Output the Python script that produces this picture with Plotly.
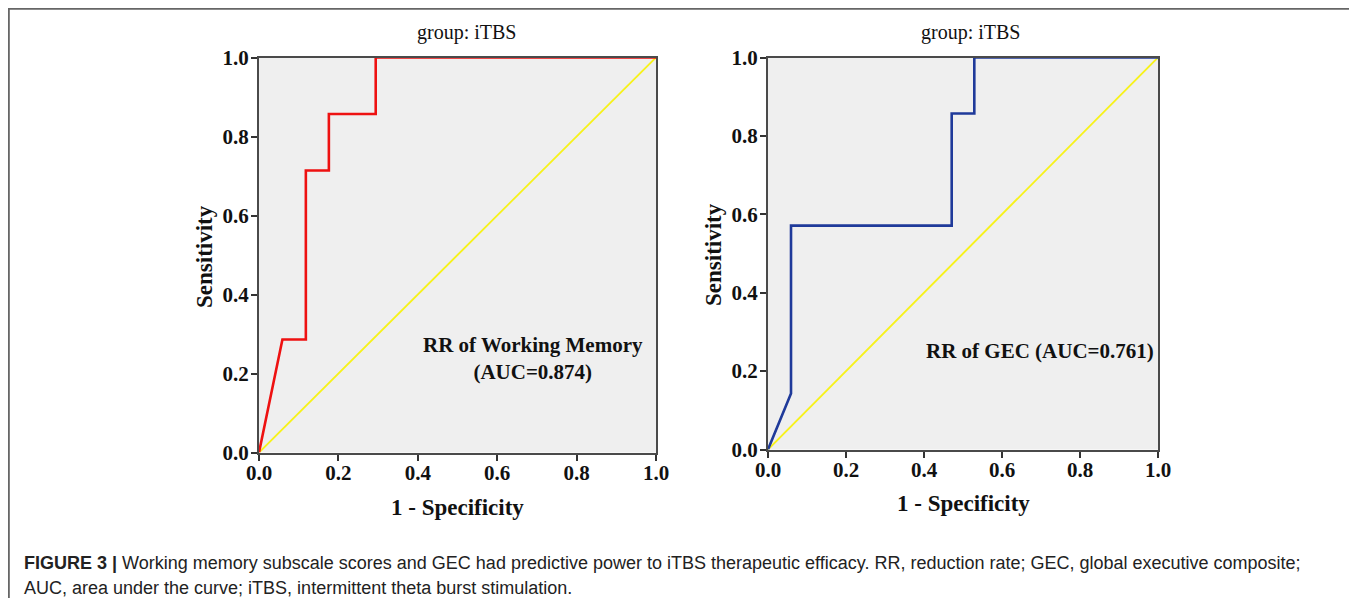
import plotly.graph_objects as go

OFF = 8  # browser default body margin
W, H = 1357 - OFF, 606 - 2 * OFF

# ROC data (1 - specificity, sensitivity)
wm_fpr = [0.0, 0.059, 0.118, 0.118, 0.176, 0.176, 0.294, 0.294, 1.0]
wm_tpr = [0.0, 0.286, 0.286, 0.714, 0.714, 0.857, 0.857, 1.0, 1.0]
gec_fpr = [0.0, 0.059, 0.059, 0.471, 0.471, 0.529, 0.529, 1.0]
gec_tpr = [0.0, 0.143, 0.571, 0.571, 0.857, 0.857, 1.0, 1.0]
ref_line = [0.0, 1.0]
tick_vals = [0.0, 0.2, 0.4, 0.6, 0.8, 1.0]
tick_text = ["0.0", "0.2", "0.4", "0.6", "0.8", "1.0"]
panel_title = "group: iTBS"
label_wm = "RR of Working Memory<br>(AUC=0.874)"
label_gec = "RR of GEC (AUC=0.761)"
x_title = "1 - Specificity"
y_title = "Sensitivity"
caption_1 = "<b>FIGURE 3 |</b> Working memory subscale scores and GEC had predictive power to iTBS therapeutic efficacy. RR, reduction rate; GEC, global executive composite;"
caption_2 = "AUC, area under the curve; iTBS, intermittent theta burst stimulation."

SERIF = "Liberation Serif, Times New Roman, serif"
SANS = "Liberation Sans, Arial, sans-serif"


def px(x):
    return (x - OFF) / W


def py(y):
    return 1 - (y - OFF) / H


fig = go.Figure()

fig.add_trace(go.Scatter(x=ref_line, y=ref_line, mode="lines",
                         line=dict(color="#f7f21a", width=1.9),
                         xaxis="x", yaxis="y", hoverinfo="skip"))
fig.add_trace(go.Scatter(x=wm_fpr, y=wm_tpr, mode="lines",
                         line=dict(color="#ee1111", width=2.6),
                         xaxis="x", yaxis="y"))
fig.add_trace(go.Scatter(x=ref_line, y=ref_line, mode="lines",
                         line=dict(color="#f7f21a", width=1.9),
                         xaxis="x2", yaxis="y2", hoverinfo="skip"))
fig.add_trace(go.Scatter(x=gec_fpr, y=gec_tpr, mode="lines",
                         line=dict(color="#1f3a9a", width=2.6),
                         xaxis="x2", yaxis="y2"))

axis_common = dict(
    range=[0, 1], tickvals=tick_vals, ticktext=tick_text,
    showgrid=False, zeroline=False, showline=True, linecolor="#4a4a4a",
    linewidth=2, mirror=True, ticks="outside", ticklen=6, tickwidth=1.5,
    tickcolor="#333333",
    tickfont=dict(family=SERIF, size=21, color="#111111", weight="bold"),
    fixedrange=True, automargin=False,
)
xax = dict(axis_common, ticklabelstandoff=-6)
yax = dict(axis_common, ticklabelstandoff=-2)

fig.update_layout(
    width=W, height=H,
    margin=dict(l=0, r=0, t=0, b=0, pad=0, autoexpand=False),
    paper_bgcolor="white",
    plot_bgcolor="#efefef",
    showlegend=False,
    xaxis=dict(domain=[px(259), px(656)], anchor="y", **xax),
    yaxis=dict(domain=[py(452.5), py(57.5)], anchor="x", **yax),
    xaxis2=dict(domain=[px(768), px(1158)], anchor="y2", **xax),
    yaxis2=dict(domain=[py(449.5), py(57.5)], anchor="x2", **yax),
)

anns = [
    dict(x=px(466), y=py(32), text=panel_title, font=dict(family=SERIF, size=20, color="#111")),
    dict(x=px(970), y=py(32), text=panel_title, font=dict(family=SERIF, size=20, color="#111")),
    dict(x=px(533), y=py(358), text="<b>" + label_wm + "</b>",
         font=dict(family=SERIF, size=21, color="#111")),
    dict(x=px(1040), y=py(351), text="<b>" + label_gec + "</b>",
         font=dict(family=SERIF, size=21, color="#111")),
    dict(x=px(457), y=py(507), text="<b>" + x_title + "</b>", font=dict(family=SERIF, size=23, color="#111")),
    dict(x=px(963), y=py(503), text="<b>" + x_title + "</b>", font=dict(family=SERIF, size=23, color="#111")),
    dict(x=px(204), y=py(257), text="<b>" + y_title + "</b>", textangle=-90,
         font=dict(family=SERIF, size=23, color="#111")),
    dict(x=px(714), y=py(255), text="<b>" + y_title + "</b>", textangle=-90,
         font=dict(family=SERIF, size=23, color="#111")),
]
for a in anns:
    a.update(xref="paper", yref="paper", showarrow=False, xanchor="center", yanchor="middle")
    fig.add_annotation(**a)

fig.add_annotation(x=px(22), y=py(563), xref="paper", yref="paper", showarrow=False,
                   xanchor="left", yanchor="middle", text=caption_1,
                   font=dict(family=SANS, size=18, color="#222"))
fig.add_annotation(x=px(22), y=py(588), xref="paper", yref="paper", showarrow=False,
                   xanchor="left", yanchor="middle", text=caption_2,
                   font=dict(family=SANS, size=18, color="#222"))

# outer figure frame
fig.add_shape(type="rect", xref="paper", yref="paper",
              x0=px(8.8), x1=px(1354), y0=py(640), y1=py(8.8),
              line=dict(color="#666666", width=2), fillcolor="rgba(0,0,0,0)", layer="below")

fig.write_html("out.html")
